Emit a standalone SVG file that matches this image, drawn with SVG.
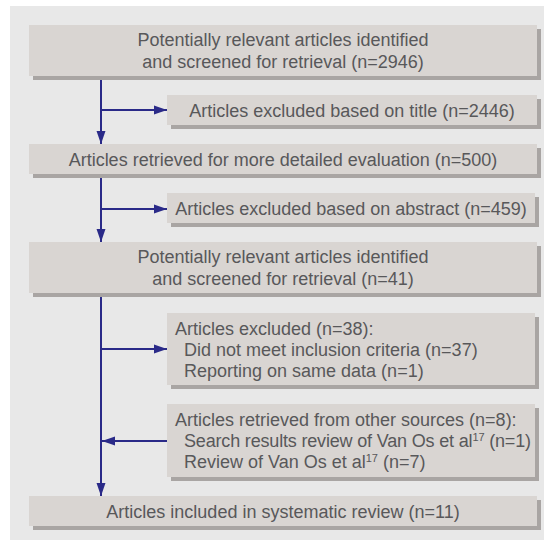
<svg xmlns="http://www.w3.org/2000/svg" width="544" height="543" viewBox="0 0 544 543">
<style>
.box{fill:#d9d5d2}
.sh{fill:#a9a5a3}
.t{font-family:"Liberation Sans",Arial,sans-serif;font-size:18px;fill:#58585a}
.c{text-anchor:middle}
.sup{font-size:11px}
.ln{stroke:#2a2a88;stroke-width:2;fill:none}
</style>
<defs>
<marker id="ah" markerUnits="userSpaceOnUse" markerWidth="14" markerHeight="10" refX="13" refY="5" orient="auto">
<path d="M0,0.5 L13,5 L0,9.5 Z" fill="#2a2a88"/>
</marker>
</defs>
<rect x="0" y="0" width="544" height="543" fill="#ffffff"/>
<rect x="10" y="6" width="534" height="534" fill="#e8e8e8"/>
<g id="connectors">
<line class="ln" x1="101" y1="76" x2="101" y2="144" marker-end="url(#ah)"/>
<line class="ln" x1="101" y1="110" x2="167" y2="110" marker-end="url(#ah)"/>
<line class="ln" x1="101" y1="174" x2="101" y2="242" marker-end="url(#ah)"/>
<line class="ln" x1="101" y1="209" x2="167" y2="209" marker-end="url(#ah)"/>
<line class="ln" x1="101" y1="293" x2="101" y2="496" marker-end="url(#ah)"/>
<line class="ln" x1="101" y1="349" x2="167" y2="349" marker-end="url(#ah)"/>
<line class="ln" x1="167" y1="441" x2="102" y2="441" marker-end="url(#ah)"/>
</g>
<g id="n1">
<rect class="sh" x="33" y="29" width="508" height="51"/>
<rect class="box" x="29" y="25" width="508" height="51"/>
<text class="t c" x="283" y="46">Potentially relevant articles identified</text>
<text class="t c" x="283" y="68">and screened for retrieval (n=2946)</text>
</g>
<g id="n2">
<rect class="sh" x="171" y="99" width="370" height="30"/>
<rect class="box" x="167" y="95" width="370" height="30"/>
<text class="t c" x="352" y="116.5">Articles excluded based on title (n=2446)</text>
</g>
<g id="n3">
<rect class="sh" x="33" y="148" width="508" height="30"/>
<rect class="box" x="29" y="144" width="508" height="30"/>
<text class="t c" x="283" y="165.5">Articles retrieved for more detailed evaluation (n=500)</text>
</g>
<g id="n4">
<rect class="sh" x="171" y="197" width="368" height="30"/>
<rect class="box" x="167" y="193" width="368" height="30"/>
<text class="t c" x="351" y="214.5">Articles excluded based on abstract (n=459)</text>
</g>
<g id="n5">
<rect class="sh" x="33" y="246" width="508" height="51"/>
<rect class="box" x="29" y="242" width="508" height="51"/>
<text class="t c" x="283" y="263">Potentially relevant articles identified</text>
<text class="t c" x="283" y="285">and screened for retrieval (n=41)</text>
</g>
<g id="n6">
<rect class="sh" x="171" y="317" width="368" height="72"/>
<rect class="box" x="167" y="313" width="368" height="72"/>
<text class="t" x="175" y="334.5">Articles excluded (n=38):</text>
<text class="t" x="184" y="355.5">Did not meet inclusion criteria (n=37)</text>
<text class="t" x="184" y="376.5">Reporting on same data (n=1)</text>
</g>
<g id="n7">
<rect class="sh" x="171" y="408" width="368" height="73"/>
<rect class="box" x="167" y="404" width="368" height="73"/>
<text class="t" x="175" y="425.5">Articles retrieved from other sources (n=8):</text>
<text class="t" x="184" y="447" textLength="347" lengthAdjust="spacing">Search results review of Van Os et al<tspan class="sup" dy="-6">17</tspan><tspan dy="6"> (n=1)</tspan></text>
<text class="t" x="184" y="468">Review of Van Os et al<tspan class="sup" dy="-6">17</tspan><tspan dy="6"> (n=7)</tspan></text>
</g>
<g id="n8">
<rect class="sh" x="33" y="500" width="508" height="30"/>
<rect class="box" x="29" y="496" width="508" height="30"/>
<text class="t c" x="283" y="517.5">Articles included in systematic review (n=11)</text>
</g>
</svg>
